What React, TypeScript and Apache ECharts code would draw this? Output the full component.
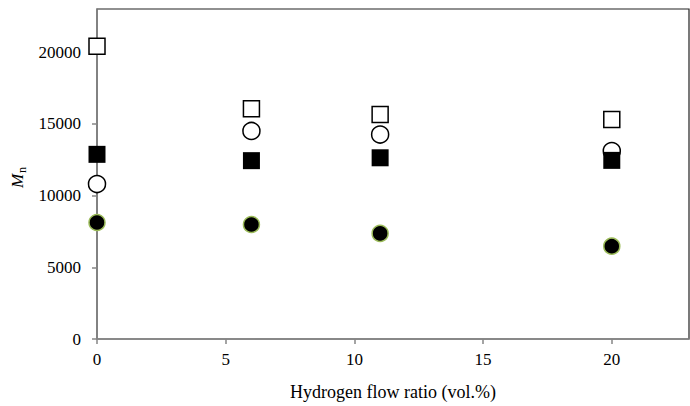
import React, { useEffect, useRef } from "react";
import * as echarts from "echarts";

const xValues = [0, 6, 11, 20];
const openSquares = [20400, 16050, 15650, 15300];
const openCircles = [10800, 14500, 14250, 13100];
const filledSquares = [12870, 12430, 12630, 12450];
const filledCircles = [8120, 7980, 7360, 6470];
const xTicks = [0, 5, 10, 15, 20];
const yTicks = [0, 5000, 10000, 15000, 20000];

const FONT = "Liberation Serif";

function pairs(ys: number[]) {
  return xValues.map((x, i) => [x, ys[i]]);
}

export default function App() {
  const ref = useRef<HTMLDivElement>(null);
  useEffect(() => {
    if (!ref.current) return;
    const chart = echarts.init(ref.current, null, { renderer: "svg" });
    const axisCommon = {
      axisLine: { show: true, lineStyle: { color: "#868686", width: 1.5 } },
      axisTick: { show: true, length: 5, inside: false, lineStyle: { color: "#868686", width: 1.5 } },
      splitLine: { show: false },
    };
    chart.setOption({
      animation: false,
      backgroundColor: "#ffffff",
      textStyle: { fontFamily: FONT },
      grid: {
        left: 97,
        right: 1,
        top: 9,
        bottom: 62,
        show: true,
        borderColor: "#222",
        borderWidth: 1.2,
        backgroundColor: "transparent",
      },
      xAxis: {
        type: "value",
        min: 0,
        max: 23,
        ...axisCommon,
        axisTick: { ...axisCommon.axisTick, customValues: xTicks },
        axisLabel: {
          customValues: xTicks,
          formatter: (v: number) => String(v),
          fontFamily: FONT,
          fontSize: 17,
          color: "#000",
          margin: 12,
        },
        name: "Hydrogen flow ratio (vol.%)",
        nameLocation: "middle",
        nameGap: 44,
        nameTextStyle: { fontFamily: FONT, fontSize: 18, color: "#000" },
      },
      yAxis: {
        type: "value",
        min: 0,
        max: 23000,
        ...axisCommon,
        axisTick: { ...axisCommon.axisTick, customValues: yTicks },
        axisLabel: {
          customValues: yTicks,
          formatter: (v: number) => String(v),
          fontFamily: FONT,
          fontSize: 17,
          color: "#000",
          margin: 16,
        },
      },
      graphic: [
        {
          type: "text",
          x: 17,
          y: 181,
          rotation: Math.PI / 2,
          style: {
            text: "M",
            font: `italic 17px "${FONT}"`,
            fill: "#000",
            align: "center",
            verticalAlign: "middle",
          },
        },
        {
          type: "text",
          x: 22,
          y: 170,
          rotation: Math.PI / 2,
          style: {
            text: "n",
            font: `12px "${FONT}"`,
            fill: "#000",
            align: "center",
            verticalAlign: "middle",
          },
        },
      ],
      series: [
        {
          type: "scatter",
          data: pairs(openSquares),
          symbol: "rect",
          symbolSize: 16,
          clip: false,
          itemStyle: { color: "#fff", borderColor: "#000", borderWidth: 1.5, opacity: 1 },
        },
        {
          type: "scatter",
          data: pairs(openCircles),
          symbol: "circle",
          symbolSize: 17,
          clip: false,
          itemStyle: { color: "#fff", borderColor: "#000", borderWidth: 1.5, opacity: 1 },
        },
        {
          type: "scatter",
          data: pairs(filledSquares),
          symbol: "rect",
          symbolSize: 17,
          clip: false,
          itemStyle: { color: "#000", borderColor: "#000", borderWidth: 0, opacity: 1 },
        },
        {
          type: "scatter",
          data: pairs(filledCircles),
          symbol: "circle",
          symbolSize: 16,
          clip: false,
          itemStyle: { color: "#000", borderColor: "#9bbb59", borderWidth: 1.5, opacity: 1 },
        },
      ],
    });
    return () => chart.dispose();
  }, []);
  return <div ref={ref} style={{ width: 690, height: 406, position: "absolute", left: 0, top: 0 }} />;
}
